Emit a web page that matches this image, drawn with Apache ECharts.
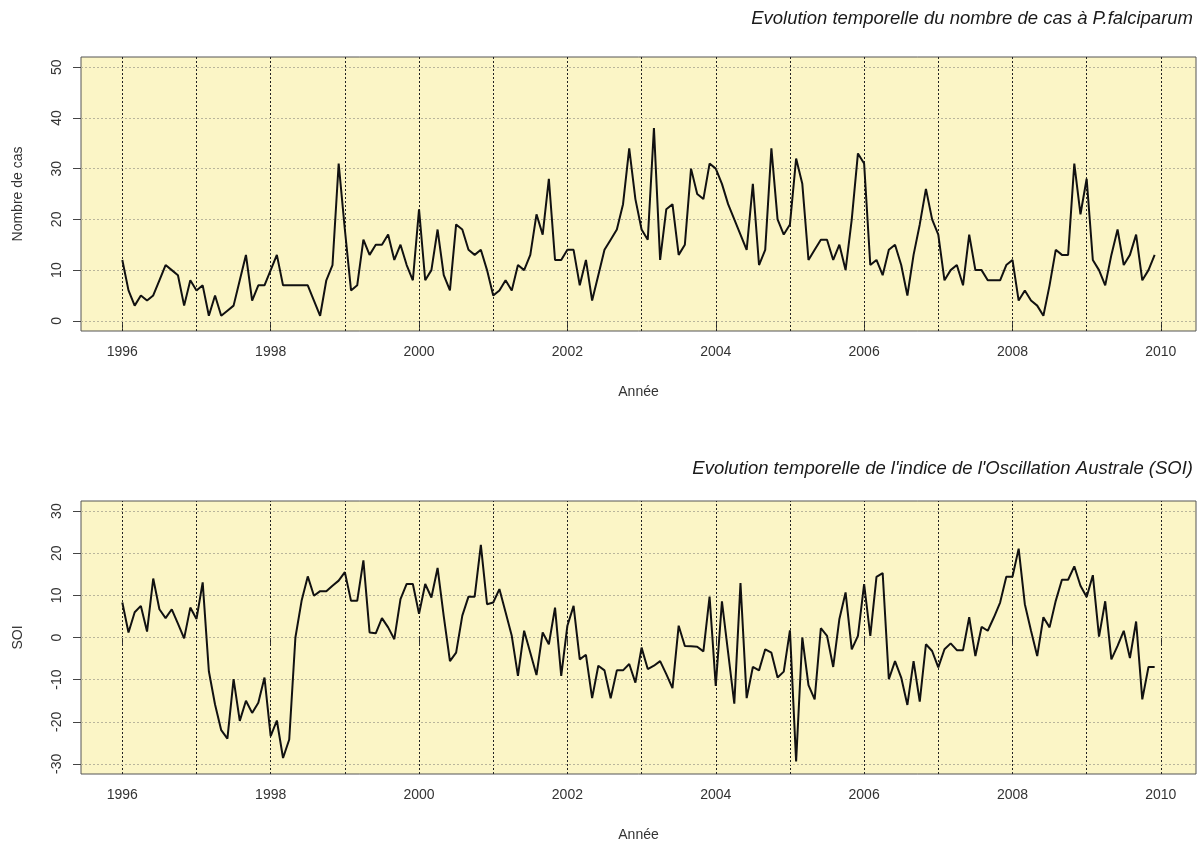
<!DOCTYPE html>
<html>
<head>
<meta charset="utf-8">
<script src="https://cdn.jsdelivr.net/npm/echarts@6/dist/echarts.min.js"></script>
<style>
  html, body { margin: 0; padding: 0; background: #fff; }
  #chart { width: 1203px; height: 847px; }
</style>
</head>
<body>
<div id="chart"></div>
<script>
// séries mensuelles, janvier 1996 -> décembre 2009
var startYear = 1996;

var cas = [
  12, 6, 3, 5, 4, 5, 8, 11, 10, 9, 3, 8,
  6, 7, 1, 5, 1, 2, 3, 8, 13, 4, 7, 7,
  10, 13, 7, 7, 7, 7, 7, 4, 1, 8, 11, 31,
  18, 6, 7, 16, 13, 15, 15, 17, 12, 15, 11, 8,
  22, 8, 10, 18, 9, 6, 19, 18, 14, 13, 14, 10,
  5, 6, 8, 6, 11, 10, 13, 21, 17, 28, 12, 12,
  14, 14, 7, 12, 4, 9, 14, 16, 18, 23, 34, 24,
  18, 16, 38, 12, 22, 23, 13, 15, 30, 25, 24, 31,
  30, 27, 23, 20, 17, 14, 27, 11, 14, 34, 20, 17,
  19, 32, 27, 12, 14, 16, 16, 12, 15, 10, 20, 33,
  31, 11, 12, 9, 14, 15, 11, 5, 13, 19, 26, 20,
  17, 8, 10, 11, 7, 17, 10, 10, 8, 8, 8, 11,
  12, 4, 6, 4, 3, 1, 7, 14, 13, 13, 31, 21,
  28, 12, 10, 7, 13, 18, 11, 13, 17, 8, 10, 13
];

var soi = [
  8.3, 1.2, 6, 7.5, 1.4, 14, 6.7, 4.6, 6.7, 3.3, -0.2, 7.1,
  4.4, 13.1, -8, -15.9, -22, -24, -9.9, -19.8, -15, -17.9, -15.5, -9.5,
  -23.4, -19.7, -28.6, -24.2, 0, 8.7, 14.5, 9.9, 11, 11, 12.3, 13.5,
  15.5, 8.7, 8.7, 18.3, 1.2, 1, 4.6, 2.4, -0.4, 9.1, 12.7, 12.7,
  5.6, 12.7, 9.5, 16.5, 5, -5.6, -3.6, 5.2, 9.7, 9.7, 22, 7.9,
  8.3, 11.5, 6, 0.4, -9.1, 1.6, -3.6, -8.9, 1.2, -1.6, 7.1, -9.1,
  2.8, 7.5, -5.2, -4.1, -14.4, -6.7, -7.8, -14.4, -7.8, -7.8, -6.3, -10.7,
  -2.4, -7.5, -6.7, -5.6, -8.7, -12, 2.8, -2, -2.1, -2.2, -3.3, 9.7,
  -11.5, 8.6, -3.6, -15.7, 12.9, -14.4, -7, -7.8, -2.8, -3.6, -9.5, -8.1,
  1.7, -29.4, 0, -11.3, -14.7, 2.2, 0.4, -7, 4.4, 10.7, -2.8, 0.4,
  12.7, 0.4, 14.4, 15.3, -9.9, -5.6, -9.5, -16, -5.6, -15.2, -1.6, -3.2,
  -7.1, -2.8, -1.4, -3, -3, 4.8, -4.4, 2.5, 1.6, 4.8, 8.3, 14.4,
  14.4, 21.1, 7.9, 1.6, -4.4, 4.8, 2.4, 8.7, 13.7, 13.7, 16.9, 12.3,
  9.6, 14.8, 0.2, 8.6, -5.2, -2, 1.6, -4.9, 3.8, -14.7, -7, -7
];

var labelYears = [1996, 1998, 2000, 2002, 2004, 2006, 2008, 2010];
var gridYears = [1996, 1997, 1998, 1999, 2000, 2001, 2002, 2003, 2004, 2005, 2006, 2007, 2008, 2009, 2010];
var casTicks = [0, 10, 20, 30, 40, 50];
var soiTicks = [-30, -20, -10, 0, 10, 20, 30];

// étendue façon R (4 %)
var xMin = 1995.443, xMax = 2010.474;

var font = 'Liberation Sans, Arial, sans-serif';

function toPoints(values) {
    return values.map(function (v, i) { return [startYear + i / 12, v]; });
}

function xAxisFor(idx) {
    return {
        type: 'value', gridIndex: idx, min: xMin, max: xMax,
        name: 'Année', nameLocation: 'middle', nameGap: 54,
        nameTextStyle: { color: '#333', fontSize: 14, fontFamily: font },
        axisLine: { show: false },
        axisTick: { show: true, customValues: labelYears, length: 8, lineStyle: { color: '#444' } },
        axisLabel: { customValues: labelYears, color: '#333', fontSize: 14, fontFamily: font, margin: 14,
            formatter: function (v) { return String(v); } },
        splitLine: { show: false }
    };
}

function yAxisFor(idx, name, lo, hi, ticks) {
    return {
        type: 'value', gridIndex: idx, min: lo, max: hi,
        name: name, nameLocation: 'middle', nameGap: 56, nameRotate: 90,
        nameTextStyle: { color: '#333', fontSize: 14, fontFamily: font },
        axisLine: { show: false },
        axisTick: { show: true, customValues: ticks, length: 8, lineStyle: { color: '#444' } },
        axisLabel: { customValues: ticks, rotate: 90, color: '#333', fontSize: 14, fontFamily: font, margin: 17 },
        splitLine: { show: false }
    };
}

function seriesFor(idx, values, ticks) {
    var lines = gridYears.map(function (y) {
        return { xAxis: y, lineStyle: { color: '#222', type: [2, 2], width: 1 } };
    }).concat(ticks.map(function (t) {
        return { yAxis: t, lineStyle: { color: '#b9b59c', type: [2, 2], width: 1 } };
    }));
    return {
        type: 'line', xAxisIndex: idx, yAxisIndex: idx,
        data: toPoints(values),
        showSymbol: false, symbol: 'none',
        lineStyle: { color: '#111', width: 2 },
        z: 5,
        markLine: { silent: true, symbol: 'none', label: { show: false }, data: lines, z: 1 }
    };
}

var chart = echarts.init(document.getElementById('chart'));

chart.setOption({
    animation: false,
    backgroundColor: '#fff',
    title: [{
        text: 'Evolution temporelle du nombre de cas à P.falciparum',
        right: 5, top: 4,
        textStyle: { fontFamily: font, fontStyle: 'italic', fontWeight: 'normal', fontSize: 18.5, color: '#1a1a1a' }
    }, {
        text: "Evolution temporelle de l'indice de l'Oscillation Australe (SOI)",
        right: 5, top: 454,
        textStyle: { fontFamily: font, fontStyle: 'italic', fontWeight: 'normal', fontSize: 18.5, color: '#1a1a1a' }
    }],
    grid: [
        { left: 81, top: 57, right: 7, height: 274, show: true, backgroundColor: '#fbf5c6', borderColor: '#555', borderWidth: 1 },
        { left: 81, top: 501, right: 7, height: 273, show: true, backgroundColor: '#fbf5c6', borderColor: '#555', borderWidth: 1 }
    ],
    xAxis: [xAxisFor(0), xAxisFor(1)],
    yAxis: [
        yAxisFor(0, 'Nombre de cas', -2, 52, casTicks),
        yAxisFor(1, 'SOI', -32.4, 32.4, soiTicks)
    ],
    series: [
        seriesFor(0, cas, casTicks),
        seriesFor(1, soi, soiTicks)
    ]
});
</script>
</body>
</html>
